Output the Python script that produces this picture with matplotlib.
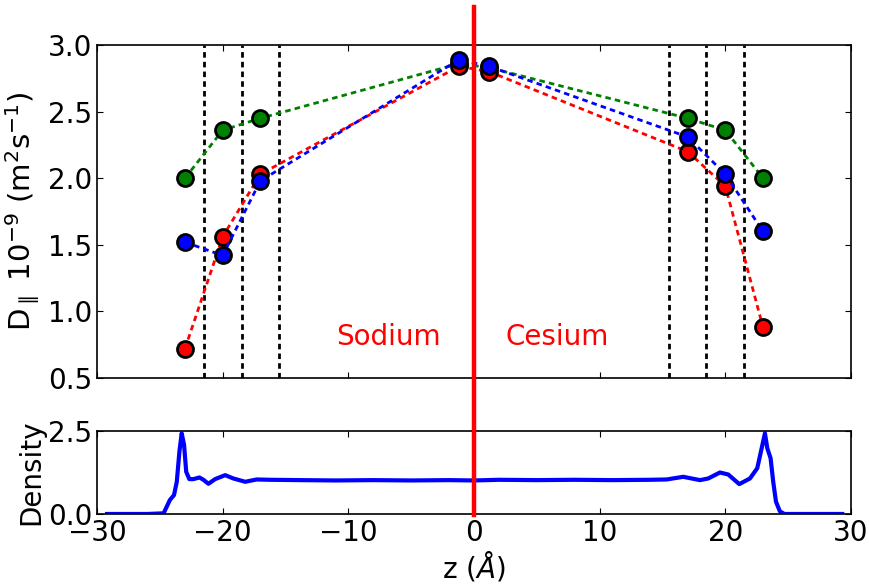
import numpy as np
import matplotlib
matplotlib.use('Agg')
import matplotlib.pyplot as plt
import matplotlib.transforms as mtransforms

# diffusion coefficients vs z
z_pts = [-23, -20, -17, -1.2, 1.2, 17, 20, 23]
D_green = [2.00, 2.36, 2.45, 2.86, 2.83, 2.45, 2.36, 2.00]
D_red = [0.72, 1.56, 2.03, 2.84, 2.80, 2.20, 1.94, 0.88]
D_blue = [1.52, 1.42, 1.98, 2.89, 2.84, 2.31, 2.03, 1.60]

# layer boundaries
z_bounds = [-21.5, -18.5, -15.5, 15.5, 18.5, 21.5]

# density profile
z_dens = [-29.2, -26.0, -24.7, -24.45, -24.2, -23.87, -23.65, -23.44, -23.26,
          -23.07, -22.9, -22.65, -22.33, -21.85, -21.53, -21.13, -20.6, -19.8,
          -19.15, -18.2, -17.3, -16.2, -13.8, -11.0, -8.0, -5.0, -2.0, 0.0,
          2.0, 5.0, 8.0, 11.0, 14.0, 15.33, 16.65, 17.98, 18.64, 19.57, 20.23,
          21.11, 21.96, 22.54, 22.89, 23.15, 23.34, 23.6, 23.81, 24.03, 24.34,
          24.7, 26.0, 29.3]
dens = [0.0, 0.0, 0.02, 0.22, 0.42, 0.57, 0.97, 1.88, 2.43,
        2.08, 1.27, 1.05, 1.05, 1.10, 1.03, 0.91, 1.05, 1.17,
        1.07, 0.97, 1.04, 1.03, 1.02, 1.01, 1.02, 1.01, 1.02, 1.01,
        1.03, 1.02, 1.03, 1.02, 1.03, 1.04, 1.12, 1.02, 1.07, 1.25, 1.19,
        0.90, 1.07, 1.38, 1.98, 2.43, 1.98, 1.68, 0.97, 0.37, 0.08,
        0.0, 0.0, 0.0]

plt.rcParams['xtick.direction'] = 'in'
plt.rcParams['ytick.direction'] = 'in'
plt.rcParams['xtick.top'] = True
plt.rcParams['ytick.right'] = True
plt.rcParams['xtick.major.size'] = 4
plt.rcParams['ytick.major.size'] = 4
plt.rcParams['font.size'] = 20

fig = plt.figure(figsize=(8.69, 5.86), dpi=100)
ax1 = fig.add_axes([0.1116, 0.3549, 0.8677, 0.5683])
ax2 = fig.add_axes([0.1116, 0.1229, 0.8677, 0.1416])

dash = (0, (2, 1.5))
for zb in z_bounds:
    ax1.axvline(zb, color='k', lw=2, linestyle=dash, zorder=1)

ax1.plot(z_pts, D_green, color='g', lw=2, linestyle=dash, marker='o', ms=11.5,
         mec='k', mew=2, zorder=3)
ax1.plot(z_pts, D_red, color='r', lw=2, linestyle=dash, marker='o', ms=11.5,
         mec='k', mew=2, zorder=3)
ax1.plot(z_pts, D_blue, color='b', lw=2, linestyle=dash, marker='o', ms=11.5,
         mec='k', mew=2, zorder=3)

ax1.text(-6.8, 0.81, 'Sodium', color='r', fontsize=20, ha='center', va='center')
ax1.text(6.6, 0.81, 'Cesium', color='r', fontsize=20, ha='center', va='center')

ax1.set_xlim(-30, 30)
ax1.set_ylim(0.5, 3.0)
ax1.set_yticks(np.arange(0.5, 3.01, 0.5))
ax1.set_xticks(np.arange(-30, 31, 10))
ax1.set_xticklabels([])
ax1.set_ylabel(r'D$_\parallel$ 10$^{-9}$ (m$^2$s$^{-1}$)', fontsize=21)

ax2.plot(z_dens, dens, color='b', lw=3)
ax2.set_xlim(-30, 30)
ax2.set_ylim(0, 2.5)
ax2.set_yticks([0.0, 2.5])
ax2.set_xticks(np.arange(-30, 31, 10))
ax2.set_ylabel('Density', labelpad=2)
ax2.set_xlabel(r'z ($\AA$)', labelpad=2)

for ax in (ax1, ax2):
    for s in ax.spines.values():
        s.set_linewidth(1.2)

# red separator across both panels
trans = mtransforms.blended_transform_factory(ax2.transData, fig.transFigure)
fig.add_artist(plt.Line2D([0, 0], [0.121, 0.988], color='r', lw=3.2,
                          transform=trans, zorder=10))

fig.savefig('out.png', dpi=100)
